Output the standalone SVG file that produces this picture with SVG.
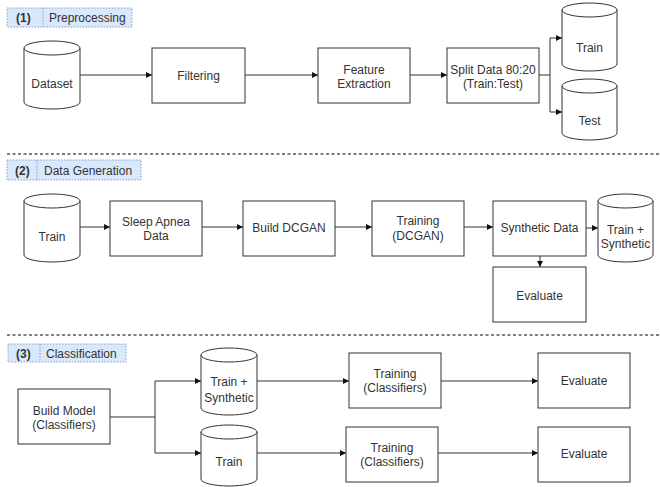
<svg xmlns="http://www.w3.org/2000/svg" width="660" height="487" viewBox="0 0 660 487">
<defs>
<style>
.n{fill:#fff;stroke:#333;stroke-width:1}
.t{font-family:"Liberation Sans",Arial,sans-serif;font-size:12px;fill:#333;text-anchor:middle}
.lb{fill:#dae8fc;stroke:#6c8ebf;stroke-width:0.8;stroke-dasharray:1.5 1.5}
.lt{font-family:"Liberation Sans",Arial,sans-serif;font-size:12px;fill:#333}
.c{fill:none;stroke:#333;stroke-width:1;marker-end:url(#ah)}
.cl{fill:none;stroke:#333;stroke-width:1}
.d{stroke:#555;stroke-width:1.5;stroke-dasharray:3 2.5}
</style>
<marker id="ah" viewBox="0 0 8 8" refX="8" refY="4" markerWidth="6" markerHeight="6" markerUnits="userSpaceOnUse" orient="auto">
<path d="M0,0 L8,4 L0,8 z" fill="#111"/>
</marker>
</defs>
<rect width="660" height="487" fill="#fff"/>

<!-- section labels -->
<g id="label1">
<rect class="lb" x="7" y="8" width="125" height="19"/>
<line class="lb" x1="43" y1="8" x2="43" y2="27"/>
<text class="lt" x="16" y="22" font-weight="bold">(1)</text>
<text class="lt" x="49" y="22">Preprocessing</text>
</g>
<g id="label2">
<rect class="lb" x="7" y="160" width="134" height="20"/>
<line class="lb" x1="37" y1="160" x2="37" y2="180"/>
<text class="lt" x="15" y="175" font-weight="bold">(2)</text>
<text class="lt" x="44" y="175">Data Generation</text>
</g>
<g id="label3">
<rect class="lb" x="8" y="344" width="118" height="18"/>
<line class="lb" x1="40" y1="344" x2="40" y2="362"/>
<text class="lt" x="16" y="358" font-weight="bold">(3)</text>
<text class="lt" x="46" y="358">Classification</text>
</g>

<!-- dividers -->
<g id="dividers">
<line class="d" x1="7" y1="154" x2="660" y2="154"/>
<line class="d" x1="7" y1="335" x2="660" y2="335"/>
</g>

<!-- connectors -->
<g id="connectors">
<path class="c" d="M80,75 L152,75"/>
<path class="c" d="M245,75 L318,75"/>
<path class="c" d="M410,75 L447,75"/>
<path class="cl" d="M539,75 L550,75"/>
<path class="c" d="M550,75 L550,38 L562,38"/>
<path class="c" d="M550,75 L550,112 L562,112"/>

<path class="c" d="M80,227 L110,227"/>
<path class="c" d="M202,227 L243,227"/>
<path class="c" d="M335,227 L372,227"/>
<path class="c" d="M464,227 L493,227"/>
<path class="c" d="M586,228 L598,228"/>
<path class="c" d="M540,256 L540,267"/>

<path class="cl" d="M110,417 L155,417"/>
<path class="c" d="M155,417 L155,381 L201,381"/>
<path class="c" d="M155,417 L155,453 L201,453"/>
<path class="c" d="M257,381 L349,381"/>
<path class="c" d="M441,381 L538,381"/>
<path class="c" d="M257,453 L346,453"/>
<path class="c" d="M438,453 L538,453"/>
</g>

<!-- section 1 -->
<g id="dataset">
<path class="n" d="M24,48 a28,7 0 0 1 56,0 L80,102 a28,7 0 0 1 -56,0 Z"/>
<path class="n" d="M24,48 a28,7 0 0 0 56,0"/>
<text class="t" x="52" y="88">Dataset</text>
</g>
<g id="filtering">
<rect class="n" x="152" y="48" width="93" height="55"/>
<text class="t" x="198.5" y="80">Filtering</text>
</g>
<g id="feature">
<rect class="n" x="318" y="48" width="92" height="55"/>
<text class="t" x="364" y="74">Feature</text>
<text class="t" x="364" y="88">Extraction</text>
</g>
<g id="split">
<rect class="n" x="447" y="48" width="92" height="55"/>
<text class="t" x="493" y="74">Split Data 80:20</text>
<text class="t" x="493" y="88">(Train:Test)</text>
</g>
<g id="train1">
<path class="n" d="M562,10 a27.5,7 0 0 1 55,0 L617,64 a27.5,7 0 0 1 -55,0 Z"/>
<path class="n" d="M562,10 a27.5,7 0 0 0 55,0"/>
<text class="t" x="589.5" y="52">Train</text>
</g>
<g id="test1">
<path class="n" d="M562,86 a27.5,7 0 0 1 55,0 L617,133 a27.5,7 0 0 1 -55,0 Z"/>
<path class="n" d="M562,86 a27.5,7 0 0 0 55,0"/>
<text class="t" x="589.5" y="125">Test</text>
</g>

<!-- section 2 -->
<g id="train2">
<path class="n" d="M24,201 a28,7 0 0 1 56,0 L80,255 a28,7 0 0 1 -56,0 Z"/>
<path class="n" d="M24,201 a28,7 0 0 0 56,0"/>
<text class="t" x="52" y="241">Train</text>
</g>
<g id="sleep">
<rect class="n" x="110" y="201" width="92" height="55"/>
<text class="t" x="156" y="226">Sleep Apnea</text>
<text class="t" x="156" y="240">Data</text>
</g>
<g id="dcgan">
<rect class="n" x="243" y="201" width="92" height="55"/>
<text class="t" x="289" y="232">Build DCGAN</text>
</g>
<g id="trainingdcgan">
<rect class="n" x="372" y="201" width="92" height="55"/>
<text class="t" x="418" y="225">Training</text>
<text class="t" x="418" y="240">(DCGAN)</text>
</g>
<g id="synthetic">
<rect class="n" x="493" y="201" width="93" height="55"/>
<text class="t" x="539.5" y="232">Synthetic Data</text>
</g>
<g id="trainsyn2">
<path class="n" d="M598,201 a27.5,7 0 0 1 55,0 L653,255 a27.5,7 0 0 1 -55,0 Z"/>
<path class="n" d="M598,201 a27.5,7 0 0 0 55,0"/>
<text class="t" x="625.5" y="234">Train +</text>
<text class="t" x="625.5" y="248">Synthetic</text>
</g>
<g id="evaluate2">
<rect class="n" x="493" y="267" width="93" height="55"/>
<text class="t" x="539.5" y="300">Evaluate</text>
</g>

<!-- section 3 -->
<g id="buildmodel">
<rect class="n" x="18" y="389" width="92" height="55"/>
<text class="t" x="64" y="415">Build Model</text>
<text class="t" x="64" y="429">(Classifiers)</text>
</g>
<g id="trainsyn3">
<path class="n" d="M201,355 a28,7 0 0 1 56,0 L257,408 a28,7 0 0 1 -56,0 Z"/>
<path class="n" d="M201,355 a28,7 0 0 0 56,0"/>
<text class="t" x="229" y="386">Train +</text>
<text class="t" x="229" y="402">Synthetic</text>
</g>
<g id="train3">
<path class="n" d="M201,432 a28,7 0 0 1 56,0 L257,479 a28,7 0 0 1 -56,0 Z"/>
<path class="n" d="M201,432 a28,7 0 0 0 56,0"/>
<text class="t" x="229" y="466">Train</text>
</g>
<g id="trainingcls1">
<rect class="n" x="349" y="353" width="92" height="55"/>
<text class="t" x="395" y="378">Training</text>
<text class="t" x="395" y="392">(Classifiers)</text>
</g>
<g id="evaluate3a">
<rect class="n" x="538" y="353" width="92" height="55"/>
<text class="t" x="584" y="385">Evaluate</text>
</g>
<g id="trainingcls2">
<rect class="n" x="346" y="427" width="92" height="55"/>
<text class="t" x="392" y="452">Training</text>
<text class="t" x="392" y="466">(Classifiers)</text>
</g>
<g id="evaluate3b">
<rect class="n" x="538" y="427" width="92" height="55"/>
<text class="t" x="584" y="458">Evaluate</text>
</g>
</svg>
